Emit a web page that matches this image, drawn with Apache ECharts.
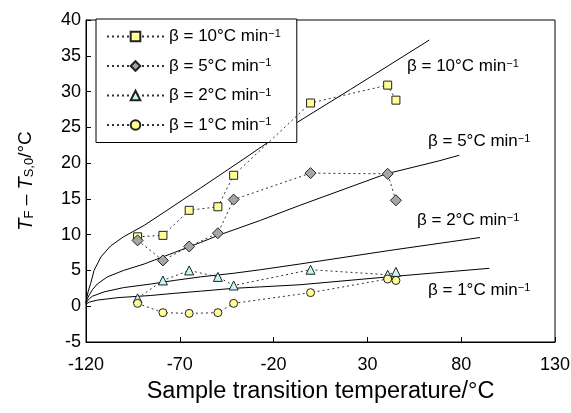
<!DOCTYPE html>
<html>
<head>
<meta charset="utf-8">
<script src="https://cdn.jsdelivr.net/npm/echarts@6/dist/echarts.min.js"></script>
<style>
    html, body { margin: 0; padding: 0; background: #fff; }
    #main { width: 571px; height: 413px; }
</style>
</head>
<body>
<div id="main"></div>
<script>
"use strict";

// x axis tick labels
var xTicks = [-120, -70, -20, 30, 80, 130];
// measured points: sample transition temperature, same for all heating rates
var sampleTemps = [-92.5, -79, -65, -49.7, -41.3, -0.3, 40.8, 45.2];
var measured10 = [9.7, 9.9, 13.4, 13.9, 18.3, 28.4, 30.9, 28.8];
var measured5 = [9.2, 6.4, 8.35, 10.2, 14.9, 18.6, 18.5, 14.8];
var measured2 = [1.1, 3.6, 5.0, 4.1, 2.9, 5.1, 4.4, 4.8];
var measured1 = [0.4, -0.9, -1.0, -0.9, 0.4, 1.9, 3.8, 3.6];

// model curves (solid lines)
var modelX10 = [-120, -119.4, -118.8, -117.5, -115.7, -112, -107, -100, -89, -78, -59, -33, -8, 21, 63];
var modelY10 = [0.5, 1.4, 2.1, 3.2, 5.0, 6.9, 8.4, 9.7, 11.3, 13.2, 16.5, 21.1, 25.6, 30.3, 37.2];
var modelX5 = [-120, -119.2, -118.2, -116.6, -114, -108.6, -100, -89, -73, -59, -49.5, -27, -6, 40, 68, 79];
var modelY5 = [0.5, 1.1, 1.6, 2.3, 3.1, 4.1, 5.0, 5.9, 7.5, 8.9, 9.9, 12.0, 14.1, 18.5, 20.3, 21.1];
var modelX2 = [-120, -119, -118, -116.6, -110.4, -100, -85.5, -73, -59, -41.5, -27, -6, 42, 90];
var modelY2 = [0.4, 0.8, 1.1, 1.4, 2.0, 2.6, 3.1, 3.6, 4.1, 4.6, 5.1, 5.9, 7.8, 9.6];
var modelX1 = [-120, -119, -118, -114, -103, -85.5, -73, -59, -41.5, -27, -6, 41, 95];
var modelY1 = [0.3, 0.45, 0.6, 0.85, 1.2, 1.5, 1.8, 2.1, 2.5, 2.7, 3.0, 4.1, 5.3];

var rateNames = ["10", "5", "2", "1"];

var FONT = "Liberation Sans";

function zip(xs, ys) {
    return xs.map(function(x, i) { return [x, ys[i]]; });
}

function betaText(rate) {
    return "{t|\u03b2 = " + rate + "\u00b0C min}{s|\u22121}";
}

var betaRich = {
    t: { fontSize: 17, fontFamily: FONT, color: "#000" },
    s: { fontSize: 11, fontFamily: FONT, color: "#000", verticalAlign: "top" }
};

function measuredSeries(rate, ys, symbol, size, fill) {
    return {
        name: rate,
        type: "line",
        data: zip(sampleTemps, ys),
        symbol: symbol,
        symbolSize: size,
        showAllSymbol: true,
        z: 5,
        lineStyle: { color: "#333", width: 1, type: [2, 3] },
        itemStyle: { color: fill, borderColor: "#222", borderWidth: 1 },
        emphasis: { disabled: true }
    };
}

function modelSeries(xs, ys) {
    return {
        type: "line",
        data: zip(xs, ys),
        symbol: "none",
        smooth: false,
        z: 3,
        lineStyle: { color: "#000", width: 1 },
        emphasis: { disabled: true }
    };
}

var myChart = echarts.init(document.getElementById("main"), null, { renderer: "canvas" });

var option = {
    animation: false,
    backgroundColor: "#fff",
    grid: {
        left: 86, right: 16, top: 20, bottom: 71,
        show: true, borderColor: "#000", borderWidth: 1,
        outerBoundsMode: "none"
    },
    legend: {
        orient: "vertical",
        left: 96, top: 19,
        padding: [9, 16, 9, 10],
        itemWidth: 57, itemHeight: 12, itemGap: 12.5,
        borderColor: "#000", borderWidth: 1,
        backgroundColor: "#fff",
        selectedMode: false,
        data: rateNames,
        formatter: function(name) { return betaText(name); },
        textStyle: { fontSize: 17, fontFamily: FONT, color: "#000", rich: betaRich }
    },
    xAxis: {
        type: "value",
        min: -120, max: 130,
        name: "Sample transition temperature/\u00b0C",
        nameLocation: "middle",
        nameGap: 38,
        nameTextStyle: { fontSize: 23.5, fontFamily: FONT, color: "#000" },
        axisLine: { onZero: false, lineStyle: { color: "#000", width: 1 } },
        axisTick: { inside: true, length: 5, lineStyle: { color: "#000" }, customValues: xTicks },
        axisLabel: {
            customValues: xTicks, margin: 14,
            fontSize: 18, fontFamily: FONT, color: "#000",
            showMinLabel: true, showMaxLabel: true
        },
        splitLine: { show: false }
    },
    yAxis: {
        type: "value",
        min: -5, max: 40, interval: 5,
        name: "{i|T}{b|F}{n| \u2013 }{i|T}{b|S,0}{n|/\u00b0C}",
        nameLocation: "middle",
        nameGap: 50,
        nameTextStyle: {
            fontSize: 19, fontFamily: FONT, color: "#000",
            rich: {
                i: { fontSize: 20, fontFamily: FONT, fontStyle: "italic", color: "#000" },
                b: { fontSize: 13, fontFamily: FONT, color: "#000", verticalAlign: "bottom" },
                n: { fontSize: 19, fontFamily: FONT, color: "#000" }
            }
        },
        axisLine: { onZero: false, lineStyle: { color: "#000", width: 1 } },
        axisTick: { inside: true, length: 5, lineStyle: { color: "#000" } },
        axisLabel: { margin: 5, fontSize: 18, fontFamily: FONT, color: "#000" },
        splitLine: { show: false }
    },
    graphic: [
        { type: "text", left: 407, top: 58, style: { text: betaText("10"), rich: betaRich } },
        { type: "text", left: 428, top: 133, style: { text: betaText("5"), rich: betaRich } },
        { type: "text", left: 417, top: 212, style: { text: betaText("2"), rich: betaRich } },
        { type: "text", left: 428, top: 282, style: { text: betaText("1"), rich: betaRich } }
    ],
    series: [
        modelSeries(modelX10, modelY10),
        modelSeries(modelX5, modelY5),
        modelSeries(modelX2, modelY2),
        modelSeries(modelX1, modelY1),
        measuredSeries("10", measured10, "rect", 8, "#ffff99"),
        measuredSeries("5", measured5, "diamond", 11, "#a6a6a6"),
        measuredSeries("2", measured2, "triangle", 9, "#c6f6f6"),
        measuredSeries("1", measured1, "circle", 8, "#ffff99")
    ]
};

myChart.setOption(option);
</script>
</body>
</html>
